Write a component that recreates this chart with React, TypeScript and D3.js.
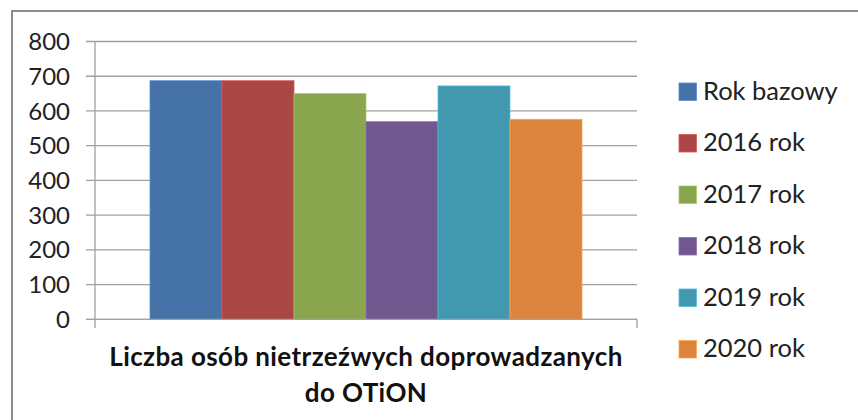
import React from 'react'
import * as d3 from 'd3'

const category = ['Liczba osób nietrzeźwych doprowadzanych', 'do OTiON']
const series = ['Rok bazowy', '2016 rok', '2017 rok', '2018 rok', '2019 rok', '2020 rok']
const values = [687, 687, 650, 569, 672, 576]
const colors = ['#4572A7', '#AA4643', '#89A54E', '#71588F', '#4198AF', '#DB843D']
const yTicks = [0, 100, 200, 300, 400, 500, 600, 700, 800]

const W = 858
const H = 420
const plot = { left: 95, right: 637, top: 41.5, bottom: 319.3 }
const font = 'Lato, "DejaVu Sans", sans-serif'

export default function App () {
  const y = d3.scaleLinear().domain([0, 800]).range([plot.bottom, plot.top])

  // one category; bars fill ~80% of the plot width, centred
  const plotW = plot.right - plot.left
  const groupW = plotW * 0.797
  const x0 = plot.left + (plotW - groupW) / 2
  const x = d3.scaleBand().domain(series).range([x0, x0 + groupW]).padding(0)
  const midX = (plot.left + plot.right) / 2

  return (
    <svg width={W} height={H} style={{ position: 'absolute', left: 0, top: 0 }}>
      <rect x={0} y={0} width={W} height={H} fill='#fff' />
      {/* chart frame */}
      <rect x={12} y={11} width={W + 20} height={H + 20} fill='none' stroke='#8c8c8c' strokeWidth={2} />

      {/* gridlines + y ticks */}
      {yTicks.map(t => (
        <line key={t} x1={86} x2={plot.right} y1={y(t)} y2={y(t)} stroke='#a0a0a0' strokeWidth={1.3} />
      ))}
      {yTicks.map(t => (
        <text key={'l' + t} x={70} y={y(t)} dy='0.36em' textAnchor='end' fontFamily={font} fontSize={24} fill='#222'>
          {t}
        </text>
      ))}

      {/* bars */}
      {series.map((s, i) => (
        <rect
          key={s}
          x={x(s)}
          y={y(values[i])}
          width={x.bandwidth()}
          height={y(0) - y(values[i])}
          fill={colors[i]}
          stroke={d3.color(colors[i]).brighter(0.6).toString()}
          strokeWidth={0.8}
        />
      ))}

      {/* axes */}
      <line x1={plot.left} x2={plot.left} y1={plot.top} y2={328} stroke='#a0a0a0' strokeWidth={1.3} />
      <line x1={86} x2={plot.right} y1={plot.bottom} y2={plot.bottom} stroke='#a0a0a0' strokeWidth={1.3} />
      <line x1={plot.right} x2={plot.right} y1={plot.bottom} y2={328} stroke='#a0a0a0' strokeWidth={1.3} />

      {/* category label */}
      {category.map((c, i) => (
        <text key={c} x={midX} y={366 + i * 36} textAnchor='middle' fontFamily={font} fontWeight='bold' fontSize={26} letterSpacing={0.4} fill='#111'>
          {c}
        </text>
      ))}

      {/* legend */}
      {series.map((s, i) => (
        <g key={'lg' + s} transform={`translate(679, ${83 + i * 51.5})`}>
          <rect x={0} y={0} width={17.5} height={17.5} fill={colors[i]} stroke={d3.color(colors[i]).brighter(0.6).toString()} strokeWidth={0.8} />
          <text x={24} y={16.5} fontFamily={font} fontSize={25.5} fill='#222'>{s}</text>
        </g>
      ))}
    </svg>
  )
}
